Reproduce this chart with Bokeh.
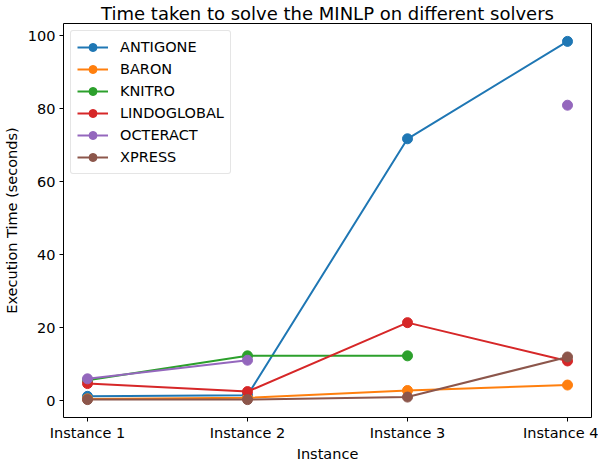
import numpy as np
from bokeh.plotting import figure
from bokeh.models import Range1d, FixedTicker, Legend
from bokeh.embed import file_html
from bokeh.resources import INLINE

instances = ["Instance 1", "Instance 2", "Instance 3", "Instance 4"]
solvers = ["ANTIGONE", "BARON", "KNITRO", "LINDOGLOBAL", "OCTERACT", "XPRESS"]
antigone = [1.2, 1.5, 71.8, 98.5]
baron = [0.5, 0.8, 2.8, 4.3]
knitro = [5.6, 12.3, 12.3, np.nan]
lindoglobal = [4.7, 2.5, 21.4, 10.9]
octeract = [6.0, 11.1, np.nan, 81.0]
xpress = [0.3, 0.3, 1.0, 12.0]
colors = ["#1f77b4", "#ff7f0e", "#2ca02c", "#d62728", "#9467bd", "#8c564b"]
series = [antigone, baron, knitro, lindoglobal, octeract, xpress]

FONT = "DejaVu Sans"

p = figure(frame_width=528, frame_height=394, output_backend="svg", toolbar_location=None,
           x_range=Range1d(-0.15, 3.15), y_range=Range1d(-4.6, 103.4),
           title="Time taken to solve the MINLP on different solvers",
           min_border_left=58, min_border_right=7, min_border_top=0, min_border_bottom=0)
p.title.align = "center"
p.title.text_font = FONT
p.title.text_font_size = "18px"
p.title.text_font_style = "normal"
p.title.text_color = "#000000"
p.title.standoff = 0
p.title.offset = 0

p.xgrid.visible = False
p.ygrid.visible = False
p.outline_line_color = "black"
p.outline_line_width = 1

xs = list(range(len(instances)))
p.xaxis.ticker = FixedTicker(ticks=xs)
p.xaxis.major_label_overrides = {i: s for i, s in enumerate(instances)}
p.yaxis.ticker = FixedTicker(ticks=[0, 20, 40, 60, 80, 100])
for ax in (p.xaxis[0], p.yaxis[0]):
    ax.axis_line_color = None
    ax.major_tick_out = 4
    ax.major_tick_in = 0
    ax.minor_tick_line_color = None
    ax.major_tick_line_color = "black"
    ax.major_label_text_font = FONT
    ax.major_label_text_font_size = "14.5px"
    ax.major_label_text_color = "#000000"
    ax.axis_label_text_font = FONT
    ax.axis_label_text_font_size = "14.5px"
    ax.axis_label_text_font_style = "normal"
    ax.axis_label_text_color = "#000000"
    ax.major_label_standoff = 4
p.xaxis.major_label_standoff = 3
p.xaxis.axis_label = "Instance"
p.yaxis.axis_label = "Execution Time (seconds)"
p.xaxis.axis_label_standoff = 2
p.yaxis.axis_label_standoff = 5

items = []
for name, vals, c in zip(solvers, series, colors):
    l = p.line(xs, vals, line_color=c, line_width=2)
    s = p.scatter(xs, vals, size=10, fill_color=c, line_color=c)
    items.append((name, [l, s]))

legend = Legend(items=items, location="top_left")
legend.label_text_font = FONT
legend.label_text_font_size = "14.5px"
legend.label_text_color = "#000000"
legend.border_line_color = "#cccccc"
legend.border_radius = 3
legend.background_fill_alpha = 0.8
legend.glyph_width = 31
legend.glyph_height = 20
legend.spacing = 2
legend.padding = 6
legend.margin = 7
legend.label_standoff = 12
p.add_layout(legend)

open("out.html", "w").write(file_html(p, INLINE))
